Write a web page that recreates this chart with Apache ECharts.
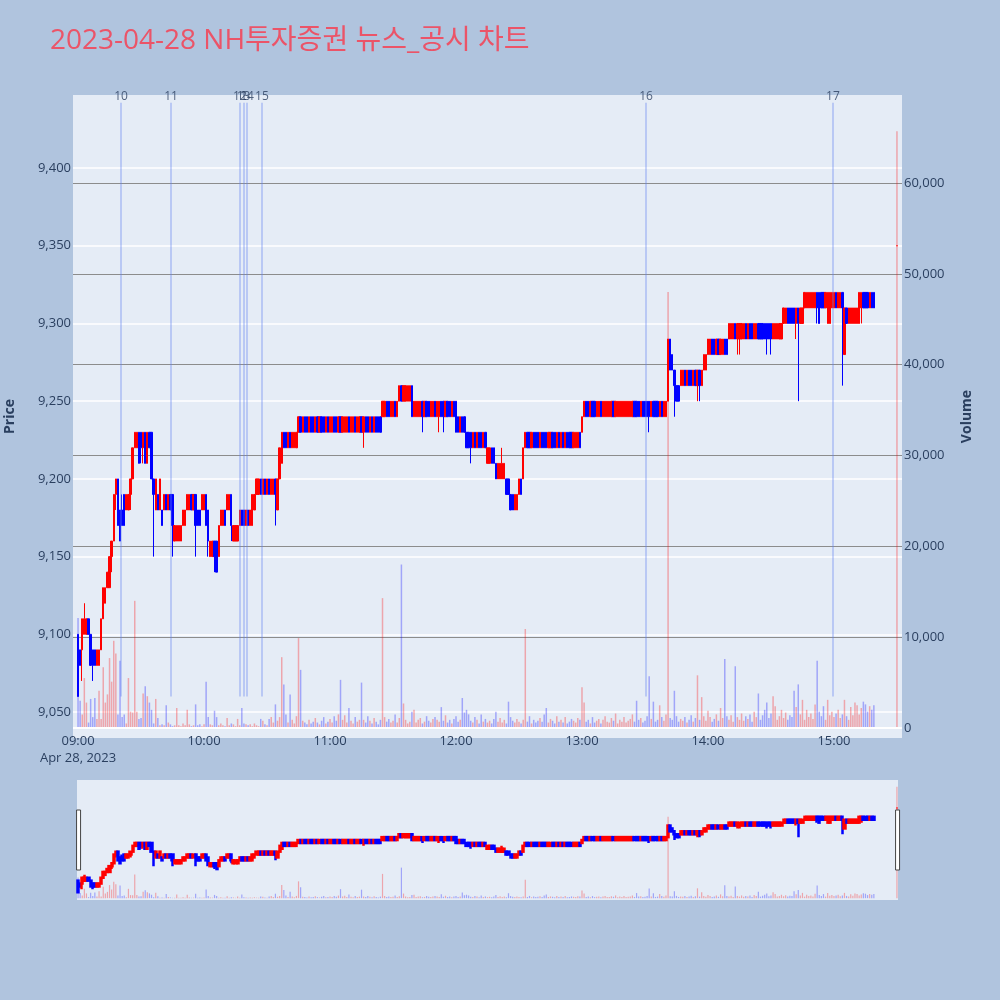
<!DOCTYPE html>
<html><head><meta charset="utf-8">
<script src="https://cdn.jsdelivr.net/npm/echarts@6/dist/echarts.min.js"></script>
<style>html,body{margin:0;padding:0;background:#b0c4de}#c{width:1000px;height:1000px}</style>
</head><body><div id="c"></div>
<script>
// minute index 0 = 09:00; each row = [open, close, low, high]
const ohlc = [
[9100,9060,9060,9100],[9090,9080,9080,9090],[9090,9110,9070,9110],[9100,9110,9100,9120],[9100,9110,9100,9110],[9110,9100,9100,9110],[9100,9080,9080,9100],[9090,9080,9070,9090],[9090,9080,9080,9090],[9080,9090,9080,9090],
[9080,9090,9080,9090],[9090,9110,9090,9110],[9110,9130,9110,9130],[9120,9130,9120,9130],[9130,9140,9130,9140],[9130,9150,9130,9150],[9150,9160,9140,9160],[9160,9190,9160,9190],[9190,9200,9180,9200],[9200,9170,9170,9200],
[9180,9160,9160,9180],[9180,9170,9170,9190],[9190,9170,9170,9190],[9180,9190,9180,9190],[9180,9190,9180,9190],[9190,9200,9180,9200],[9200,9220,9200,9220],[9220,9230,9220,9230],[9220,9230,9220,9230],[9230,9210,9210,9230],
[9230,9220,9210,9230],[9220,9230,9210,9230],[9230,9210,9210,9230],[9210,9230,9210,9230],[9230,9220,9220,9230],[9230,9200,9200,9230],[9200,9190,9150,9200],[9180,9200,9180,9200],[9190,9180,9180,9190],[9180,9200,9180,9200],
[9180,9170,9170,9180],[9180,9190,9180,9190],[9190,9180,9180,9190],[9180,9190,9180,9190],[9190,9180,9180,9190],[9190,9170,9150,9190],[9160,9170,9160,9170],[9160,9170,9160,9170],[9160,9170,9160,9170],[9160,9170,9160,9170],
[9170,9180,9170,9180],[9170,9180,9170,9180],[9180,9190,9180,9190],[9180,9190,9180,9190],[9190,9180,9180,9190],[9180,9190,9180,9190],[9190,9170,9150,9190],[9180,9170,9170,9180],[9180,9170,9170,9180],[9180,9190,9180,9190],
[9180,9190,9180,9190],[9190,9170,9170,9190],[9180,9160,9150,9180],[9150,9160,9150,9160],[9150,9160,9150,9160],[9160,9150,9140,9160],[9160,9140,9140,9160],[9150,9170,9150,9170],[9170,9180,9170,9180],[9170,9180,9170,9180],
[9180,9170,9170,9180],[9180,9190,9180,9190],[9180,9190,9180,9190],[9190,9170,9160,9190],[9160,9170,9160,9170],[9160,9170,9160,9170],[9160,9170,9160,9170],[9170,9180,9170,9180],[9180,9170,9170,9180],[9180,9170,9170,9180],
[9170,9180,9170,9180],[9180,9170,9170,9180],[9170,9180,9170,9180],[9170,9190,9170,9190],[9180,9190,9180,9190],[9190,9200,9190,9200],[9190,9200,9190,9200],[9200,9190,9190,9200],[9190,9200,9190,9200],[9200,9190,9190,9200],
[9190,9200,9190,9200],[9200,9190,9190,9200],[9190,9200,9190,9200],[9190,9200,9190,9200],[9200,9190,9170,9200],[9180,9200,9180,9200],[9200,9220,9200,9220],[9210,9230,9210,9230],[9230,9220,9220,9230],[9230,9220,9220,9230],
[9220,9230,9220,9230],[9230,9220,9220,9230],[9220,9230,9220,9230],[9220,9230,9220,9230],[9220,9230,9220,9230],[9230,9240,9230,9240],[9240,9230,9230,9240],[9230,9240,9230,9240],[9240,9230,9230,9240],[9240,9230,9230,9240],
[9230,9240,9230,9240],[9240,9230,9230,9240],[9240,9230,9230,9240],[9230,9240,9230,9240],[9240,9230,9230,9240],[9230,9240,9230,9240],[9240,9230,9230,9240],[9240,9230,9230,9240],[9230,9240,9230,9240],[9240,9230,9230,9240],
[9230,9240,9230,9240],[9230,9240,9230,9240],[9240,9230,9230,9240],[9240,9230,9230,9240],[9230,9240,9230,9240],[9240,9230,9230,9240],[9230,9240,9230,9240],[9230,9240,9230,9240],[9230,9240,9230,9240],[9240,9230,9230,9240],
[9230,9240,9230,9240],[9230,9240,9230,9240],[9240,9230,9230,9240],[9230,9240,9230,9240],[9230,9240,9230,9240],[9240,9230,9230,9240],[9230,9240,9220,9240],[9240,9230,9230,9240],[9240,9230,9230,9240],[9230,9240,9230,9240],
[9240,9230,9230,9240],[9230,9240,9230,9240],[9240,9230,9230,9240],[9240,9230,9230,9240],[9240,9230,9230,9240],[9240,9250,9240,9250],[9240,9250,9240,9250],[9250,9240,9240,9250],[9250,9240,9240,9250],[9240,9250,9240,9250],
[9240,9250,9240,9250],[9250,9240,9240,9250],[9240,9250,9240,9250],[9250,9260,9250,9260],[9260,9250,9250,9260],[9250,9260,9250,9260],[9250,9260,9250,9260],[9250,9260,9250,9260],[9250,9260,9250,9260],[9260,9240,9240,9260],
[9240,9250,9240,9250],[9240,9250,9240,9250],[9240,9250,9240,9250],[9240,9250,9240,9250],[9250,9240,9230,9250],[9240,9250,9240,9250],[9250,9240,9240,9250],[9250,9240,9240,9250],[9240,9250,9240,9250],[9240,9250,9240,9250],
[9250,9240,9240,9250],[9240,9250,9240,9250],[9240,9250,9230,9250],[9250,9240,9240,9250],[9250,9240,9230,9250],[9240,9250,9240,9250],[9250,9240,9240,9250],[9250,9240,9240,9250],[9240,9250,9240,9250],[9250,9240,9240,9250],
[9250,9230,9230,9250],[9240,9230,9230,9240],[9230,9240,9230,9240],[9240,9230,9230,9240],[9240,9230,9230,9240],[9230,9220,9220,9230],[9230,9220,9220,9230],[9230,9220,9210,9230],[9220,9230,9220,9230],[9230,9220,9220,9230],
[9220,9230,9220,9230],[9230,9220,9220,9230],[9230,9220,9220,9230],[9220,9230,9220,9230],[9230,9220,9220,9230],[9210,9220,9210,9220],[9210,9220,9210,9220],[9220,9210,9210,9220],[9220,9210,9210,9220],[9210,9200,9200,9210],
[9200,9210,9200,9210],[9200,9210,9200,9210],[9200,9210,9200,9220],[9200,9210,9200,9210],[9200,9190,9190,9200],[9200,9190,9190,9200],[9190,9180,9180,9190],[9190,9180,9180,9190],[9180,9190,9180,9190],[9180,9190,9180,9190],
[9190,9200,9190,9200],[9200,9190,9190,9200],[9200,9220,9200,9220],[9220,9230,9220,9230],[9230,9220,9220,9230],[9230,9220,9220,9230],[9220,9230,9220,9230],[9230,9220,9220,9230],[9230,9220,9220,9230],[9230,9220,9220,9230],
[9220,9230,9220,9230],[9230,9220,9220,9230],[9230,9220,9220,9230],[9230,9220,9220,9230],[9220,9230,9220,9230],[9220,9230,9220,9230],[9230,9220,9220,9230],[9230,9220,9220,9230],[9220,9230,9220,9230],[9230,9220,9220,9230],
[9220,9230,9220,9230],[9230,9220,9220,9230],[9220,9230,9220,9230],[9230,9220,9220,9230],[9230,9220,9220,9230],[9230,9220,9220,9230],[9220,9230,9220,9230],[9220,9230,9220,9230],[9220,9230,9220,9230],[9230,9220,9220,9230],
[9230,9240,9230,9240],[9240,9250,9240,9250],[9250,9240,9240,9250],[9250,9240,9240,9250],[9240,9250,9240,9250],[9250,9240,9240,9250],[9250,9240,9240,9250],[9240,9250,9240,9250],[9240,9250,9240,9250],[9250,9240,9240,9250],
[9240,9250,9240,9250],[9240,9250,9240,9250],[9240,9250,9240,9250],[9240,9250,9240,9250],[9240,9250,9240,9250],[9250,9240,9240,9250],[9240,9250,9240,9250],[9240,9250,9240,9250],[9240,9250,9240,9250],[9240,9250,9240,9250],
[9240,9250,9240,9250],[9240,9250,9240,9250],[9240,9250,9240,9250],[9240,9250,9240,9250],[9240,9250,9240,9250],[9250,9240,9240,9250],[9250,9240,9240,9250],[9250,9240,9240,9250],[9240,9250,9240,9250],[9250,9240,9240,9250],
[9250,9240,9240,9250],[9250,9240,9240,9250],[9250,9240,9230,9250],[9240,9250,9240,9250],[9250,9240,9240,9250],[9250,9240,9240,9250],[9250,9240,9240,9250],[9240,9250,9240,9250],[9250,9240,9240,9250],[9240,9250,9240,9250],
[9240,9250,9240,9250],[9250,9290,9250,9290],[9290,9270,9270,9290],[9280,9270,9270,9280],[9270,9260,9240,9270],[9260,9250,9250,9260],[9260,9250,9250,9260],[9260,9270,9260,9270],[9260,9270,9260,9270],[9270,9260,9260,9270],
[9260,9270,9260,9270],[9270,9260,9260,9270],[9270,9260,9260,9270],[9260,9270,9260,9270],[9270,9260,9260,9270],[9260,9270,9250,9270],[9270,9260,9250,9270],[9260,9270,9260,9270],[9270,9280,9270,9280],[9270,9280,9270,9280],
[9280,9290,9280,9290],[9280,9290,9280,9290],[9290,9280,9280,9290],[9290,9280,9280,9290],[9280,9290,9280,9290],[9290,9280,9280,9290],[9280,9290,9280,9290],[9280,9290,9280,9290],[9290,9280,9280,9290],[9290,9280,9280,9290],
[9290,9300,9290,9300],[9290,9300,9290,9300],[9290,9300,9290,9300],[9300,9290,9290,9300],[9290,9300,9280,9300],[9290,9300,9280,9300],[9290,9300,9290,9300],[9290,9300,9290,9300],[9300,9290,9290,9300],[9290,9300,9290,9300],
[9300,9290,9290,9300],[9300,9290,9290,9300],[9290,9300,9290,9300],[9290,9300,9290,9300],[9300,9290,9290,9300],[9300,9290,9290,9300],[9300,9290,9290,9300],[9300,9290,9290,9300],[9300,9290,9280,9300],[9300,9290,9290,9300],
[9300,9290,9280,9300],[9290,9300,9290,9300],[9290,9300,9290,9300],[9290,9300,9290,9300],[9290,9300,9290,9300],[9290,9300,9290,9300],[9300,9310,9300,9310],[9300,9310,9300,9310],[9310,9300,9300,9310],[9310,9300,9300,9310],
[9310,9300,9300,9310],[9310,9300,9300,9310],[9300,9310,9290,9310],[9310,9300,9250,9310],[9300,9310,9300,9310],[9300,9310,9300,9310],[9310,9320,9310,9320],[9310,9320,9310,9320],[9310,9320,9310,9320],[9310,9320,9310,9320],
[9310,9320,9310,9320],[9310,9320,9310,9320],[9320,9310,9300,9320],[9320,9300,9300,9320],[9320,9310,9310,9320],[9320,9310,9310,9320],[9310,9320,9310,9320],[9300,9320,9300,9320],[9300,9320,9300,9320],[9310,9320,9310,9320],
[9310,9320,9310,9320],[9320,9310,9310,9320],[9310,9320,9310,9320],[9310,9320,9310,9320],[9320,9310,9260,9320],[9280,9310,9280,9310],[9310,9300,9300,9310],[9300,9310,9300,9310],[9300,9310,9300,9310],[9300,9310,9300,9310],
[9300,9310,9300,9310],[9300,9310,9300,9310],[9300,9320,9300,9320],[9310,9320,9300,9320],[9320,9310,9310,9320],[9320,9310,9310,9320],[9320,9310,9310,9320],[9310,9320,9310,9320],[9320,9310,9310,9320],[9320,9310,9310,9320]
];
const volumes = [
12100,3000,1500,5500,2800,600,3200,1200,3300,1000,
4100,1000,6700,2800,3700,7700,5100,9600,8200,1500,
7400,1200,1500,500,5500,1800,1700,14000,1800,1000,
1100,3800,4600,3500,2800,2000,500,3200,1100,300,
400,300,2500,600,400,200,300,2200,300,200,
500,300,2000,400,200,300,2600,300,400,200,
400,5100,1200,400,300,1900,1200,300,500,300,
200,1100,300,500,400,200,1000,300,2200,500,
400,300,400,200,500,300,200,1000,800,400,
300,1000,1200,600,2600,800,1200,7800,4800,1500,
600,3700,900,500,1300,9900,6400,800,600,400,
900,500,700,1100,600,400,800,1200,500,700,
1000,600,1300,800,1500,5300,900,1400,600,2200,
800,500,1200,700,900,5000,900,600,1300,800,
500,1100,700,400,900,14300,1200,700,1000,600,
800,1500,600,1100,18000,2700,900,500,700,1800,
2000,600,900,1100,500,700,1300,800,600,1000,
1200,900,700,2300,800,1400,600,900,500,1000,
1300,700,900,3300,1700,2000,1500,800,600,1200,
900,500,1500,700,1000,600,800,500,1000,1800,
700,1100,600,900,500,2900,1200,800,600,1000,
700,500,900,10900,700,1300,500,900,600,800,
1100,700,1500,2200,600,1000,800,500,1300,700,
900,600,1200,500,700,1000,800,600,1100,900,
4500,2800,700,900,500,1200,600,800,1000,500,
900,1300,700,600,1100,800,1600,500,900,700,
1200,600,800,1000,1500,700,3000,900,1100,600,
800,1300,5700,1000,2900,700,900,2500,1200,800,
1500,48000,1100,900,4100,1300,700,1000,800,1200,
600,900,1400,700,1100,5800,900,3400,1300,800,
1900,1200,700,1000,1500,800,2200,1100,7600,1300,
900,1400,700,6800,1200,900,1600,800,1300,1000,
1500,700,1800,1200,3800,900,1400,2000,2800,1100,
1600,3500,2400,900,1300,2000,1100,1700,900,1400,
1200,4100,2300,4800,1500,3100,900,2000,1200,1600,
1000,2600,7400,1800,1300,2400,900,3100,1400,1800,
1200,1600,2000,1100,1500,3100,1300,900,2300,1400,
2800,2500,1500,2200,2900,2600,1800,2400,2000,2500
];
// closing auction at 15:30 (minute 390)
const closeMinute = 390;
const closeOhlc = [9350,9350,9350,9350];
const closeVolume = 65700;
// news markers (minutes after 09:00) and their labels
const newsMinutes = [20.5, 44.3, 77.1, 78.8, 80.5, 87.6, 270.5, 359.5];
const newsLabels = ['10','11','12','13','14','15','16','17'];
// x-axis tick labels
const hourTicks = [0,60,120,180,240,300,360];
const hourLabels = ['09:00','10:00','11:00','12:00','13:00','14:00','15:00'];
const dateLabel = 'Apr 28, 2023';

const FONT = "'Open Sans','Noto Sans CJK KR',sans-serif";
const INK = '#2a3f5f';
const UP = '#ff0000', DOWN = '#0000ff';

const candleData = ohlc.map((r, i) => [i, r[0], r[1], r[2], r[3]]);
candleData.push([closeMinute].concat(closeOhlc));
const allVol = volumes.map((v, i) => [i, v, ohlc[i][1] >= ohlc[i][0]]);
allVol.push([closeMinute, closeVolume, true]);
const volData = allVol.map(d => ({ value: [d[0], d[1]], itemStyle: { color: d[2] ? 'rgba(255,0,0,0.3)' : 'rgba(0,0,255,0.3)' } }));

const PMIN = 9033.3, PMAX = 9447, VMIN = -1101, VMAX = 69692;
const fmt = v => v.toLocaleString('en-US');

const chart = echarts.init(document.getElementById('c'), null, { renderer: 'canvas' });
chart.setOption({
  animation: false,
  backgroundColor: '#b0c4de',
  textStyle: { fontFamily: FONT },
  title: {
    text: '2023-04-28 NH투자증권 뉴스_공시 차트', left: 45, top: 22,
    textStyle: { color: '#eb5468', fontSize: 28, fontWeight: 'normal', fontFamily: FONT }
  },
  grid: [
    { left: 73, top: 95, width: 829, height: 643, show: true, backgroundColor: '#e5ecf6', borderWidth: 0, containLabel: false, outerBoundsMode: 'none' },
    { left: 77, top: 780, width: 821, height: 120, show: true, backgroundColor: '#e5ecf6', borderWidth: 0, containLabel: false, outerBoundsMode: 'none' }
  ],
  xAxis: [
    { type: 'value', gridIndex: 0, min: -2.4, max: 392.4,
      axisLine: { show: false }, axisTick: { show: false }, splitLine: { show: false },
      axisLabel: { customValues: hourTicks, margin: -5, color: INK, fontSize: 13, lineHeight: 17, fontFamily: FONT,
        formatter: v => { const k = hourTicks.indexOf(Math.round(v)); if (k < 0) return ''; return k === 0 ? hourLabels[0] + '\n' + dateLabel : hourLabels[k]; } } },
    { type: 'value', gridIndex: 1, min: -0.5, max: 390.5, show: false, splitLine: { show: false } }
  ],
  yAxis: [
    { type: 'value', gridIndex: 0, position: 'left', min: PMIN, max: PMAX, splitNumber: 8,
      name: 'Price', nameLocation: 'middle', nameRotate: 90, nameGap: 56,
      nameTextStyle: { color: INK, fontWeight: 'bold', fontSize: 14, fontFamily: FONT },
      axisLine: { show: false }, axisTick: { show: false },
      axisLabel: { color: INK, fontSize: 13, margin: 2, fontFamily: FONT, formatter: v => (Math.abs(v % 50) < 1e-6 ? fmt(v) : '') },
      splitLine: { show: true, showMinLine: false, showMaxLine: false, lineStyle: { color: '#ffffff', width: 1.5 } } },
    { type: 'value', gridIndex: 0, position: 'right', min: VMIN, max: VMAX, splitNumber: 7,
      name: 'Volume', nameLocation: 'middle', nameRotate: 90, nameGap: 58,
      nameTextStyle: { color: INK, fontWeight: 'bold', fontSize: 14, fontFamily: FONT },
      axisLine: { show: false }, axisTick: { show: false },
      axisLabel: { color: INK, fontSize: 13, margin: 2, fontFamily: FONT, formatter: v => (v >= 0 && v % 10000 === 0 ? fmt(v) : '') },
      splitLine: { show: true, showMinLine: false, showMaxLine: false, lineStyle: { color: '#8c8c8c', width: 1.2 } } },
    { type: 'value', gridIndex: 1, min: PMIN, max: PMAX, show: false, splitLine: { show: false } },
    { type: 'value', gridIndex: 1, min: VMIN, max: VMAX, show: false, splitLine: { show: false } }
  ],
  dataZoom: [{
    type: 'slider', xAxisIndex: 1, filterMode: 'none', start: 0, end: 100, zoomLock: true,
    left: 77, width: 821, top: 780, height: 120,
    backgroundColor: 'rgba(0,0,0,0)', borderColor: 'rgba(0,0,0,0)', fillerColor: 'rgba(0,0,0,0)',
    showDataShadow: false, showDetail: false, brushSelect: false, moveHandleSize: 0,
    dataBackground: { lineStyle: { opacity: 0 }, areaStyle: { opacity: 0 } },
    handleIcon: 'path://M0,0 L4,0 L4,60 L0,60 Z', handleSize: '50%',
    handleStyle: { color: '#ffffff', borderColor: '#444444', borderWidth: 1 }
  }],
  series: [
    { type: 'scatter', name: 'news', xAxisIndex: 0, yAxisIndex: 0, z: 1, silent: true,
      symbolSize: 1, itemStyle: { color: 'rgba(0,0,0,0)' },
      data: newsMinutes.map((m, k) => ({ value: [m, 9442], name: newsLabels[k] })),
      label: { show: true, position: 'top', distance: 0, formatter: '{b}', color: INK, fontSize: 12, fontFamily: FONT },
      markLine: { silent: true, symbol: ['none', 'none'], label: { show: false },
        lineStyle: { color: 'rgba(99,130,240,0.45)', width: 1.5, type: 'solid' },
        data: newsMinutes.map(m => [{ coord: [m, 9060] }, { coord: [m, 9442] }]) } },
    { type: 'bar', name: 'volume', xAxisIndex: 0, yAxisIndex: 1, z: 2, barWidth: 1.5, data: volData,
      markLine: { silent: true, symbol: ['none', 'none'], label: { show: false },
        lineStyle: { color: '#ffffff', width: 2, type: 'solid' }, data: [{ yAxis: 0 }] } },
    { type: 'candlestick', name: 'price', xAxisIndex: 0, yAxisIndex: 0, z: 3, barWidth: 1.8,
      encode: { x: 0, y: [1, 2, 3, 4] }, data: candleData,
      itemStyle: { color: UP, color0: DOWN, borderColor: UP, borderColor0: DOWN, borderWidth: 1 } },
    { type: 'bar', name: 'volume-mini', xAxisIndex: 1, yAxisIndex: 3, z: 2, barWidth: 1.2, data: volData },
    { type: 'candlestick', name: 'price-mini', xAxisIndex: 1, yAxisIndex: 2, z: 3, barWidth: 1.6,
      encode: { x: 0, y: [1, 2, 3, 4] }, data: candleData,
      itemStyle: { color: UP, color0: DOWN, borderColor: UP, borderColor0: DOWN, borderWidth: 2.5 } }
  ]
});
</script></body></html>
